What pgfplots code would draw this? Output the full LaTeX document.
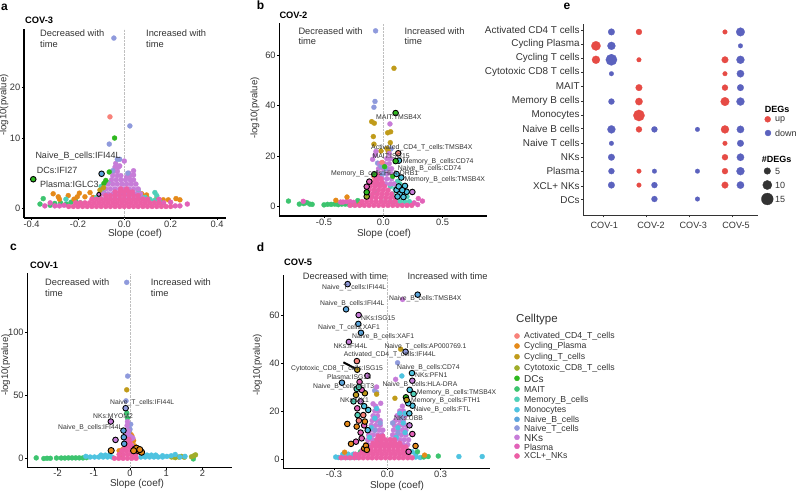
\documentclass[border=0pt]{standalone}
\usepackage{pgfplots}
\usepackage{fontspec}
\setmainfont{Liberation Sans}
\pgfplotsset{compat=1.18}
% celltype colours
\definecolor{cAc}{HTML}{F8827A}
\definecolor{cCP}{HTML}{E58A1A}
\definecolor{cCT}{HTML}{C09B1A}
\definecolor{cCy}{HTML}{A0AD2A}
\definecolor{cDC}{HTML}{2EB81F}
\definecolor{cMA}{HTML}{3DC46F}
\definecolor{cMe}{HTML}{4FD0B8}
\definecolor{cMo}{HTML}{4FC3E0}
\definecolor{cNB}{HTML}{5BA5DC}
\definecolor{cNT}{HTML}{8F9ADC}
\definecolor{cNK}{HTML}{C77CD8}
\definecolor{cPl}{HTML}{E262B8}
\definecolor{cXC}{HTML}{EC5FA5}
\definecolor{cUp}{HTML}{E64B45}
\definecolor{cDn}{HTML}{5B62BE}
\definecolor{txt}{HTML}{333333}
\pgfplotsset{
  ct/.style={only marks,mark=*,mark size=2.5pt,mark options={draw=#1,fill=#1,line width=0.3pt},forget plot},
  hl/.style={only marks,mark=*,mark size=2.8pt,mark options={draw=black,line width=0.9pt,fill=#1},forget plot},
  vol/.style={scale only axis,clip=false,
    axis x line*=bottom,axis y line*=left,
    axis line style={black,line width=1.3pt,-},
    tick align=outside,major tick length=2pt,
    tick style={black,line width=0.5pt},
    tick label style={font=\fontsize{9.3}{10}\selectfont,text=txt,inner sep=1.5pt},
    x tick label style={yshift=1pt},
    axis on top=false},
}
\newcommand\tl[4]{\node[anchor=west,inner sep=0pt,text=txt,font=\fontsize{#3}{#3}\selectfont] at (axis cs:#1,#2) {#4};}
\newcommand\tc[4]{\node[anchor=center,inner sep=0pt,text=txt,font=\fontsize{#3}{#3}\selectfont] at (axis cs:#1,#2) {#4};}
\newcommand\tb[4]{\node[anchor=west,inner sep=0pt,text=black,font=\fontsize{#3}{#3}\selectfont\bfseries] at (axis cs:#1,#2) {#4};}
\newcommand\tr[3]{\node[anchor=center,rotate=90,inner sep=0pt,text=txt,font=\fontsize{9.6}{9.6}\selectfont] at (axis cs:#1,#2) {#3};}
\begin{document}
\begin{tikzpicture}[x=1pt,y=1pt]
\useasboundingbox (0,0) rectangle (798,491);

% ---- a: COV-3
\begin{axis}[vol,at={(24pt,273pt)},anchor=south west,width=202pt,height=189pt,
  xmin=-0.433,xmax=0.439,ymin=-1.6,ymax=29.6,
  xtick={-0.4,-0.2,0,0.2,0.4},xticklabels={-0.4,-0.2,0.0,0.2,0.4},
  ytick={0,11.5,20},yticklabels={0,10,20}]
\addplot[densely dotted,black!25,forget plot] coordinates {(0,-1.6)(0,29.6)};
\addplot[ct=cMA] coordinates {(-0.364,0.7)(-0.35,1.6)(-0.32,0.5)(-0.30,0.8)(-0.275,0.9)(-0.25,0.7)(-0.23,1.0)(-0.21,1.2)(-0.19,0.9)};
\addplot[ct=cCP] coordinates {(-0.307,2.4)(-0.285,1.9)(-0.28,1.5)(-0.242,2.1)(-0.194,2.5)(-0.203,1.9)(-0.217,1.5)(-0.148,2.6)(-0.17,1.9)(-0.135,1.8)(-0.105,2.2)(0.075,2.4)(0.096,2.2)(0.14,1.6)(0.168,1.4)(0.19,1.4)(0.223,1.6)(0.24,1.4)(0.10,1.6)};
\addplot[ct=cMe] coordinates {(-0.252,1.5)(0.132,2.6)(0.14,2.1)(0.09,1.8)(0.07,2.0)(0.11,1.5)(0.13,1.3)(0.155,1.0)(-0.12,1.8)(-0.09,2.6)(-0.10,3.6)(-0.07,4.2)(0.06,3.0)};
\addplot[ct=cNK] coordinates {
(-0.10,1.6)(-0.08,1.6)(-0.06,1.6)(-0.04,1.6)(-0.02,1.6)(0,1.6)(0.02,1.6)(0.04,1.6)(0.06,1.6)(0.08,1.6)
(-0.09,2.4)(-0.07,2.4)(-0.05,2.4)(-0.03,2.4)(-0.01,2.4)(0.01,2.4)(0.03,2.4)(0.05,2.4)(0.07,2.4)
(-0.08,3.2)(-0.06,3.2)(-0.04,3.2)(-0.02,3.2)(0,3.2)(0.02,3.2)(0.04,3.2)(0.06,3.2)
(-0.07,4.0)(-0.05,4.0)(-0.03,4.0)(-0.01,4.0)(0.01,4.0)(0.03,4.0)(0.05,4.0)
(-0.055,4.7)(-0.035,4.7)(-0.015,4.7)(0.005,4.7)(0.025,4.7)(0.04,4.7)
(-0.05,5.4)(-0.03,5.4)(-0.015,5.4)(0.01,5.2)(0.025,5.4)(0.04,5.5)
(-0.045,6.1)(-0.03,6.1)(0.04,6.2)(0.02,5.8)
(-0.037,7.4)(-0.04,6.8)(-0.025,6.8)(0,7.8)(-0.02,7.0)};
\addplot[ct=cPl] coordinates {(-0.343,0.4)(-0.32,0.9)(-0.30,0.4)(-0.28,0.4)(-0.26,0.5)(0.22,0.4)(0.24,0.4)(0.272,0.7)
(0.15,1.5)(0.17,0.9)(0.20,1.0)};
\addplot[ct=cXC] coordinates {
(-0.24,0.3)(-0.22,0.3)(-0.20,0.3)(-0.18,0.3)(-0.16,0.3)(-0.14,0.3)(-0.12,0.3)(-0.10,0.3)(-0.08,0.3)(-0.06,0.3)(-0.04,0.3)(-0.02,0.3)(0,0.3)(0.02,0.3)(0.04,0.3)(0.06,0.3)(0.08,0.3)(0.10,0.3)(0.12,0.3)(0.14,0.3)(0.16,0.3)(0.18,0.3)(0.20,0.3)
(-0.21,0.9)(-0.19,0.9)(-0.17,0.9)(-0.15,0.9)(-0.13,0.9)(-0.11,0.9)(-0.09,0.9)(-0.07,0.9)(-0.05,0.9)(-0.03,0.9)(-0.01,0.9)(0.01,0.9)(0.03,0.9)(0.05,0.9)(0.07,0.9)(0.09,0.9)(0.11,0.9)(0.13,0.9)(0.15,0.9)
(-0.14,1.5)(-0.12,1.5)(-0.10,1.5)(-0.08,1.5)(-0.06,1.5)(-0.04,1.5)(-0.02,1.5)(0,1.5)(0.02,1.5)(0.04,1.5)(0.06,1.5)(0.08,1.5)(0.10,1.5)
(-0.08,2.1)(-0.06,2.1)(-0.04,2.1)(-0.02,2.1)(0,2.1)(0.02,2.1)(0.04,2.1)(0.06,2.1)
(-0.04,2.7)(-0.02,2.7)(0,2.7)(0.02,2.7)(0.035,2.7)
(-0.015,3.2)(0.01,3.2)};
\addplot[ct=cNT] coordinates {(-0.045,28.1)(0.024,13.6)(-0.065,10.6)(-0.03,8.1)(-0.02,8.1)(0.015,5.8)(-0.05,6.2)};
\addplot[ct=cAc] coordinates {(-0.062,15.1)};
\addplot[ct=cDC] coordinates {(-0.042,11.6)(-0.065,6.0)(-0.088,4.1)(-0.08,4.6)};
\addplot[ct=cCT] coordinates {(-0.105,3.0)(-0.09,3.4)};
\addplot[hl=cNB] coordinates {(-0.098,5.7)};
\addplot[hl=cDC] coordinates {(-0.393,4.8)};
\addplot[hl=cNK,mark size=2pt] coordinates {(-0.11,2.3)};
\end{axis}

% ---- b: COV-2
\begin{axis}[vol,at={(279.3pt,275pt)},anchor=south west,width=207.4pt,height=193pt,
  xmin=-0.877,xmax=0.872,ymin=-3.7,ymax=72.6,
  xtick={-0.5,0,0.5},xticklabels={-0.5,0.0,0.5},
  ytick={0,20,40,60},yticklabels={0,20,40,60}]
\addplot[densely dotted,black!25,forget plot] coordinates {(0,-3.7)(0,72.6)};
\addplot[ct=cMA] coordinates {(-0.8,2.2)(-0.708,1)(-0.67,1.2)(-0.645,1.6)(-0.62,1)(-0.60,0.9)(-0.50,0.7)(-0.47,0.9)(-0.44,0.9)(-0.41,1)(-0.38,0.8)(-0.35,1)(-0.32,1)(-0.29,0.9)(-0.26,0.9)(-0.23,1.3)(-0.215,2.4)(-0.19,1)};
\addplot[ct=cPl] coordinates {(-0.675,2.1)(-0.36,1.8)(-0.34,1.8)(-0.31,2)(-0.28,2)(-0.25,1.7)(-0.19,1.2)(0.295,3.2)(0.33,2.2)(0.26,1.5)(0.23,1.2)(0.29,0.8)};
\addplot[ct=cCP] coordinates {(-0.4,2.5)(-0.306,3.8)(-0.2,0.8)(0.14,1.5)};
\addplot[ct=cMe] coordinates {(0.06,2)(0.10,2)(0.14,2)(0.18,2)(0.22,2)(0.08,5)(0.12,4)(0.16,4)(0.20,4)(0.10,7)(0.14,7)(0.18,6)(0.12,10)(0.14,9)(0.06,8)(-0.06,6)(-0.1,4)};
\addplot[ct=cNT] coordinates {(-0.065,69.5)(-0.07,41.6)(-0.079,39.3)(0.065,22.8)(-0.048,17.2)};
\addplot[ct=cCT] coordinates {(0.09,54.7)(-0.098,33.6)(-0.076,33)(0.037,29.2)(0.062,29.6)(-0.084,27.7)(-0.079,24.7)(0.059,25.3)(0.042,21.8)(-0.02,22)(0.03,23)};
\addplot[ct=cNK] coordinates {(0.056,32.7)(-0.062,21.8)(-0.07,20.4)(-0.09,18.7)
(-0.06,9)(-0.02,9)(0.02,9)(0.06,9)(0.09,9)
(-0.05,11)(-0.01,11)(0.03,11)(0.07,11)
(-0.05,13)(-0.01,13)(0.03,13)(0.07,13)
(-0.04,15)(0,15)(0.04,15)(0.07,15)
(-0.03,17)(0.01,17)(0.05,17)
(0.03,19)(0.06,19)(0.05,21)};
\addplot[ct=cNT] coordinates {(-0.03,12)(-0.05,9)(0,13)(0.02,15)(-0.02,16)};
\addplot[ct=cAc] coordinates {(-0.01,17.5)(-0.08,12)(-0.07,11)};
\addplot[ct=cDC] coordinates {(0.011,15.8)(0.08,12)};
\addplot[ct=cXC] coordinates {
(-0.28,0.5)(-0.24,0.5)(-0.20,0.5)(-0.16,0.5)(-0.12,0.5)(-0.08,0.5)(-0.04,0.5)(0,0.5)(0.04,0.5)(0.08,0.5)(0.12,0.5)(0.16,0.5)(0.20,0.5)(0.24,0.5)
(-0.18,2)(-0.14,2)(-0.10,2)(-0.06,2)(-0.02,2)(0.02,2)(0.06,2)(0.10,2)
(-0.14,3.5)(-0.10,3.5)(-0.06,3.5)(-0.02,3.5)(0.02,3.5)(0.06,3.5)(0.10,3.5)
(-0.13,5)(-0.09,5)(-0.05,5)(-0.01,5)(0.03,5)(0.07,5)
(-0.12,6.5)(-0.08,6.5)(-0.04,6.5)(0,6.5)(0.04,6.5)
(-0.11,8)(-0.07,8)(-0.03,8)(0.01,8)
(-0.09,9.5)(-0.05,9.5)(-0.01,9.5)
(-0.06,11)(-0.02,11)(-0.05,12.5)};
\addplot[hl=cCy] coordinates {(-0.14,4)};
\addplot[hl=cPl] coordinates {(-0.118,9.9)(-0.14,7.9)};
\addplot[hl=cDC] coordinates {(-0.14,5.7)(-0.076,12.8)};
\addplot[hl=cMo] coordinates {(0.112,6.6)(0.183,8.2)(0.197,5.9)(0.14,5)(0.13,8)(0.16,6.5)(0.17,3.8)(0.12,4)(0.112,12.9)(0.152,11.5)(0.132,18.2)};
\addplot[hl=cNK] coordinates {(0.245,5.8)};
\addplot[hl=cDC] coordinates {(0.104,37)(0.104,18)};
\addplot[hl=cAc] coordinates {(0.126,21.1)};
\end{axis}

% ---- c: COV-1
\begin{axis}[vol,at={(27.3pt,23.3pt)},anchor=south west,width=204.4pt,height=194.4pt,
  xmin=-2.837,xmax=2.81,ymin=-7.5,ymax=147,
  xtick={-2,-1,0,1,2},xticklabels={-2,-1,0,1,2},
  ytick={0,50,100},yticklabels={0,50,100}]
\addplot[densely dotted,black!25,forget plot] coordinates {(0,-7.5)(0,147)};
\addplot[ct=cMA] coordinates {(-2.59,0.3)(-2.38,-0.2)(-2.29,0)(-2.2,0)(-2.03,0.2)(-1.9,0.2)(-1.8,0.2)(-1.7,0.3)(-1.6,0.3)(-1.5,0.3)(-1.4,0.3)(-1.3,0.3)(-1.2,0.5)(1.75,-0.5)};
\addplot[ct=cCy] coordinates {(1.15,1)(1.25,0.5)(1.35,1)(1.42,1.5)(1.5,0.8)(1.7,1.2)(1.77,2)(1.81,2.7)};
\addplot[ct=cMo] coordinates {(-1.22,1.5)(-1.1,1)(-0.98,1)(-0.86,1)(-0.74,1)(-0.62,1)(-0.5,1)(0.3,1)(0.42,1)(0.54,1)(0.66,1)(0.78,1)(0.9,1)(1.02,1.5)(1.14,2)(1.25,3)(1.38,1)(1.52,1.5)(0.9,2)
(-0.8,2.5)(-0.68,2.5)(-0.56,2.5)(0.35,2.5)(0.47,2.5)(0.59,2.5)(0.71,2.5)};
\addplot[ct=cCP] coordinates {(-0.25,3)(-0.2,7)(-0.15,11)(-0.1,15)(-0.05,18)(0,20)(0.05,18)(0.1,14)(0.12,10)(0.18,5)(-0.3,6)};
\addplot[ct=cNT] coordinates {(-0.09,139.8)(-0.064,65.3)(-0.11,45.6)(0.02,27)(-0.03,24)(-0.03,21)(0,23)};
\addplot[ct=cCT] coordinates {(-0.09,54.4)};
\addplot[ct=cMA] coordinates {(-0.09,36)(-0.07,32)};
\addplot[ct=cNK] coordinates {(-0.07,29)(-0.08,26)(-0.05,22)(-0.08,19)(-0.02,18)(0.03,17)(0.08,16)(-0.1,14)(0,14)(-0.12,11)(0.05,10)};
\addplot[ct=cXC] coordinates {(-0.43,0)(-0.31,0)(-0.19,0)(-0.07,0)(0.05,0)(0.17,0)
(-0.3,3)(-0.18,3)(-0.06,3)(0.06,3)(0.16,3)
(-0.22,6)(-0.10,6)(0.02,6)(0.12,6)
(-0.14,9)(-0.02,9)(0.06,9)
(-0.08,12)(0,12)
(-0.03,15)};
\addplot[hl=cCP,mark size=3.1pt] coordinates {(-0.52,6.1)(0.14,7.2)(0.23,6.1)(0.32,4.8)(0.18,8)(0.27,6.9)(0.1,6)};
\addplot[hl=cNK] coordinates {(-0.53,29.2)(-0.4,14.6)};
\addplot[hl=cNT] coordinates {(-0.12,39.8)};
\addplot[hl=cNB] coordinates {(-0.18,22)(-0.17,16.7)(-0.16,11.5)};
\end{axis}

% ---- d: COV-5
\begin{axis}[vol,at={(283.3pt,22.7pt)},anchor=south west,width=206.7pt,height=193.3pt,
  xmin=-0.585,xmax=0.578,ymin=-3.9,ymax=76.7,
  xtick={-0.3,0,0.3},xticklabels={-0.3,0.0,0.3},
  ytick={0,20,40,60},yticklabels={0,20,40,60}]
\addplot[densely dotted,black!25,forget plot] coordinates {(0,-3.9)(0,76.7)};
\addplot[ct=cMo] coordinates {(-0.29,0.8)(-0.275,0.6)(-0.25,0.6)(-0.225,0.6)(-0.2,0.6)(-0.175,0.6)(-0.25,2)(-0.22,2)(-0.19,2)(-0.16,2)(0.16,0.8)(0.185,0.6)(0.16,2)(0.14,3)(0.403,1)(0.534,1)};
\addplot[ct=cMA] coordinates {(0.287,1.2)(0.23,1)(0.205,0.8)(-0.15,3)(0.17,3)};
\addplot[ct=cCP] coordinates {(0.21,1.6)(-0.24,2.8)(-0.12,6)};
\addplot[ct=cNT] coordinates {(0.058,40.1)(-0.071,28.5)(-0.06,27.8)};
\addplot[ct=cNK] coordinates {(0.086,66.5)(0.047,33.2)(-0.037,23.2)(-0.08,23)(-0.06,30)
(-0.11,6)(-0.085,6)(-0.06,6)(-0.035,6)(-0.01,6)(0.015,6)(0.04,6)(0.065,6)(0.09,6)(0.115,6)
(-0.11,8)(-0.085,8)(-0.06,8)(-0.035,8)(0.02,8)(0.045,8)(0.07,8)(0.095,8)(0.12,8)
(-0.105,10)(-0.08,10)(-0.055,10)(-0.03,10)(0.03,10)(0.055,10)(0.08,10)(0.105,10)
(-0.095,12)(-0.07,12)(-0.045,12)(-0.025,12)(0.035,12)(0.06,12)(0.085,12)(0.105,12)
(-0.09,14)(-0.065,14)(-0.04,14)(0.04,14)(0.065,14)(0.09,14)(0.11,14)
(-0.085,16)(-0.06,16)(-0.04,16)(0.045,16)(0.07,16)(0.09,16)
(-0.08,18)(-0.055,18)(0.055,18)(0.08,18)(0.1,18)
(-0.07,20)(-0.05,20)(0.07,20)(0.09,20)
(-0.065,22)(0.085,22)};
\addplot[ct=cMo] coordinates {(0.082,34.6)(0.1,19)(0.07,19)(-0.09,13)(-0.07,17)(-0.06,21)(0.06,13)(0.09,15)(0.05,9)(-0.05,7)(0.1,11)(-0.1,9)};
\addplot[ct=cNT] coordinates {(0.03,15)(-0.04,15)(-0.07,12)(0.06,11)(0.08,17)};
\addplot[ct=cCT] coordinates {(0.075,45.8)(0.043,25.3)(-0.06,27)};
\addplot[ct=cXC] coordinates {
(-0.26,0.5)(-0.235,0.5)(-0.21,0.5)(-0.185,0.5)(-0.16,0.5)(-0.135,0.5)(-0.11,0.5)(-0.085,0.5)(-0.06,0.5)(-0.035,0.5)(-0.01,0.5)(0.015,0.5)(0.04,0.5)(0.065,0.5)(0.09,0.5)(0.115,0.5)(0.14,0.5)
(-0.18,2)(-0.155,2)(-0.13,2)(-0.105,2)(-0.08,2)(-0.055,2)(-0.03,2)(-0.005,2)(0.02,2)(0.045,2)(0.07,2)(0.095,2)(0.12,2)
(-0.14,3.5)(-0.115,3.5)(-0.09,3.5)(-0.065,3.5)(-0.04,3.5)(-0.015,3.5)(0.01,3.5)(0.035,3.5)(0.06,3.5)(0.085,3.5)(0.11,3.5)
(-0.115,5)(-0.09,5)(-0.065,5)(-0.04,5)(-0.015,5)(0.01,5)(0.035,5)(0.06,5)(0.085,5)(0.105,5)
(-0.08,6.5)(-0.055,6.5)(-0.03,6.5)(-0.005,6.5)(0.02,6.5)(0.045,6.5)(0.07,6.5)
(-0.06,8)(-0.035,8)(-0.01,8)(0.015,8)(0.04,8)
(-0.05,9.5)(-0.025,9.5)};
% highlighted genes
\addplot[black,line width=2pt,forget plot] coordinates {(-0.247,40.3)(-0.172,37.4)};
\addplot[hl=cNT] coordinates {(-0.223,72.9)(0.103,44.7)};
\addplot[hl=cNB] coordinates {(0.171,68.5)(-0.232,62.4)(-0.163,56.3)(-0.148,52.6)(-0.255,31.8)};
\addplot[hl=cNK] coordinates {(-0.161,60)(-0.216,48.8)(-0.112,34.7)(0.141,32.6)(-0.15,24)(0.125,14)};
\addplot[hl=cAc] coordinates {(-0.171,40.8)(-0.135,18.3)(-0.16,16)};
\addplot[hl=cCT] coordinates {(-0.169,37.2)(-0.126,27.4)(-0.176,26.7)};
\addplot[hl=cMo] coordinates {(0.139,35.8)(0.126,28.8)(0.142,22.2)(-0.107,20.4)(0.124,19)(0.118,23.2)(-0.13,22)(-0.11,12)};
\addplot[hl=cPl] coordinates {(-0.156,32.1)(-0.144,28.8)(-0.169,21.1)(-0.144,8.6)(-0.176,7.2)(0.141,10.4)(-0.15,11)(-0.13,14)(0.12,3)};
\addplot[hl=cMe] coordinates {(0.148,27.1)(-0.172,29.2)(-0.167,18.3)(-0.16,30)(-0.19,24)};
\addplot[hl=cDC] coordinates {(0.105,25.7)};
\addplot[hl=cCT] coordinates {(0.109,24.6)};
\addplot[hl=cCP] coordinates {(-0.126,15.6)(-0.225,14.6)(-0.172,13.5)(-0.204,6.3)(-0.13,4.4)(-0.12,5.5)(-0.115,3.8)(0.159,5.4)};
\end{axis}

% ---- e: dot plot
\begin{axis}[scale only axis,at={(583.3pt,275.7pt)},anchor=south west,width=175pt,height=191.3pt,
  axis x line*=bottom,axis y line*=left,
  axis line style={black!80,line width=0.9pt,-},
  tick align=outside,major tick length=2pt,tick style={black!80,line width=0.5pt},
  xmin=0.526,xmax=4.595,ymin=-0.17,ymax=13.57,
  xtick={1,2,3,4},xticklabels={},
  ytick={13.12,12.12,11.1,10.1,9.1,8.05,7.05,6.05,5,4,2.98,1.95,0.95},
  yticklabels={Activated CD4 T cells,Cycling Plasma,Cycling T cells,Cytotoxic CD8 T cells,MAIT,Memory B cells,Monocytes,Naive B cells,Naive T cells,NKs,Plasma,XCL+ NKs,DCs},
  y tick label style={font=\fontsize{9.9}{10}\selectfont,text=txt,inner sep=1.5pt}]
\addplot[scatter,only marks,mark=*,scatter src=y,forget plot,
  scatter/use mapped color={draw=cUp,fill=cUp,line width=0.2pt},
  visualization depends on={2+0.27*\thisrow{n}\as\rr},
  scatter/@pre marker code/.append style={/tikz/mark size=\rr}] table {
x y n
0.82 12 9.9
0.82 11 7.4
1.82 13 3.7
1.82 11 1.2
1.82 9 4.9
1.82 8 6.2
1.82 7 13.6
1.82 6 3.7
1.82 3 1.2
1.82 2 1.2
3.82 13 1.2
3.82 11 4.9
3.82 10 1.2
3.82 9 3.7
3.82 8 8.6
3.82 6 7.4
3.82 5 1.2
3.82 4 3.7
3.82 3 3.7
3.82 2 4.9
};
\addplot[scatter,only marks,mark=*,scatter src=y,forget plot,
  scatter/use mapped color={draw=cDn,fill=cDn,line width=0.2pt},
  visualization depends on={2+0.27*\thisrow{n}\as\rr},
  scatter/@pre marker code/.append style={/tikz/mark size=\rr}] table {
x y n
1.18 13 4.9
1.18 12 7.4
1.18 11 13.6
1.18 10 1.2
1.18 8 3.7
1.18 6 7.4
1.18 5 1.2
1.18 4 4.9
1.18 3 3.7
1.18 2 4.9
2.18 6 3.7
2.18 3 1.2
2.18 2 3.7
2.18 1 3.7
3.18 6 1.2
3.18 3 1.2
3.18 1 1.2
4.18 13 8.6
4.18 12 1.2
4.18 11 7.4
4.18 10 6.2
4.18 9 4.9
4.18 8 7.4
4.18 6 6.2
4.18 5 4.9
4.18 4 6.2
4.18 3 7.4
4.18 2 6.2
};
\end{axis}

% ---- page overlay in pixel units: text and legend keys
\begin{axis}[scale only axis,hide axis,at={(0pt,0pt)},anchor=south west,width=798pt,height=491pt,
  xmin=0,xmax=798,ymin=0,ymax=491,y dir=reverse,clip=false]
% celltype legend keys
\addplot[ct=cAc,mark size=2.6pt] coordinates {(517,336)};
\addplot[ct=cCP,mark size=2.6pt] coordinates {(517,346)};
\addplot[ct=cCT,mark size=2.6pt] coordinates {(517,356.7)};
\addplot[ct=cCy,mark size=2.6pt] coordinates {(517,368)};
\addplot[ct=cDC,mark size=2.6pt] coordinates {(517,378.3)};
\addplot[ct=cMA,mark size=2.6pt] coordinates {(517,389)};
\addplot[ct=cMe,mark size=2.6pt] coordinates {(517,399.3)};
\addplot[ct=cMo,mark size=2.6pt] coordinates {(517,409.7)};
\addplot[ct=cNB,mark size=2.6pt] coordinates {(517,419.3)};
\addplot[ct=cNT,mark size=2.6pt] coordinates {(517,428)};
\addplot[ct=cNK,mark size=2.6pt] coordinates {(517,437.3)};
\addplot[ct=cPl,mark size=2.6pt] coordinates {(517,446.3)};
\addplot[ct=cXC,mark size=2.6pt] coordinates {(517,456)};
% dot plot legend keys
\addplot[ct=cUp,mark size=3pt] coordinates {(767.7,119.3)};
\addplot[ct=cDn,mark size=3pt] coordinates {(768,133)};
\addplot[ct=txt,mark size=3.3pt] coordinates {(767.3,171)};
\addplot[ct=txt,mark size=4.6pt] coordinates {(767.3,185)};
\addplot[ct=txt,mark size=5.9pt] coordinates {(767.3,199)};
% panel letters and titles
\tb{1}{7}{12}{a}\tb{256.7}{5.7}{12}{b}\tb{10}{247.3}{12}{c}\tb{256.7}{247}{12}{d}\tb{563.3}{6}{12}{e}
\tb{25}{20.7}{9.3}{COV-3}\tb{279.3}{15.7}{9.3}{COV-2}\tb{30}{265}{9.3}{COV-1}\tb{284}{262.7}{9.3}{COV-5}
% direction notes
\tl{40}{32.7}{9.3}{Decreased with}\tl{40}{44}{9.3}{time}\tl{146}{32.7}{9.3}{Increased with}\tl{146}{44}{9.3}{time}
\tl{298.3}{30.7}{9.3}{Decreased with}\tl{298.3}{41.3}{9.3}{time}\tl{404.3}{30.7}{9.3}{Increased with}\tl{404.3}{41.3}{9.3}{time}
\tl{45}{282.3}{9.3}{Decreased with}\tl{45}{293}{9.3}{time}\tl{150.7}{282.3}{9.3}{Increased with}\tl{150.7}{293}{9.3}{time}
\tl{302.7}{275.7}{9.3}{Decreased with time}\tl{407.3}{275.7}{9.3}{Increased with time}
% axis titles
\tr{4}{105}{-log10(pvalue)}\tr{255}{108}{-log10(pvalue)}\tr{5.7}{365}{-log10(pvalue)}\tr{257.3}{365}{-log10(pvalue)}
\tc{135}{233.5}{10}{Slope (coef)}\tc{384}{233.5}{10}{Slope (coef)}\tc{137}{484}{10}{Slope (coef)}\tc{397}{485.7}{10}{Slope (coef)}
% panel a labels
\tl{35.3}{156}{9}{Naive\_B\_cells:IFI44L}\tl{36.7}{170.7}{9}{DCs:IFI27}\tl{40}{184.3}{9}{Plasma:IGLC3}
% panel b labels
\tl{376}{117.3}{6.9}{MAIT:TMSB4X}\tl{371}{148}{6.9}{Activated\_CD4\_T\_cells:TMSB4X}\tl{372.3}{155.7}{6.9}{MAIT:ISG15}
\tl{402.7}{161.3}{6.9}{Memory\_B\_cells:CD74}\tl{397.7}{168.7}{6.9}{Naive\_B\_cells:CD74}\tl{331}{174}{6.9}{Memory\_B\_cells:HLA-DRB1}\tl{404.3}{180}{6.9}{Memory\_B\_cells:TMSB4X}
% panel c labels
\tl{110}{402.3}{6.8}{Naive\_T\_cells:IFI44L}\tl{93}{416.3}{6.8}{NKs:MYOM2}\tl{58}{428}{6.8}{Naive\_B\_cells:IFI44L}
% panel d labels
\tl{322}{287.7}{6.8}{Naive\_T\_cells:IFI44L}\tl{389}{298.3}{6.8}{Naive\_B\_cells:TMSB4X}\tl{320}{303.7}{6.8}{Naive\_B\_cells:IFI44L}
\tl{361}{318.3}{6.8}{NKs:ISG15}\tl{318}{327.7}{6.8}{Naive\_T\_cells:XAF1}\tl{352}{336.7}{6.8}{Naive\_B\_cells:XAF1}
\tl{333.3}{346}{6.8}{NKs:IFI44L}\tl{384.3}{346.3}{6.8}{Naive\_T\_cells:AP000769.1}\tl{343.7}{354.3}{6.8}{Activated\_CD4\_T\_cells:IFI44L}
\tl{397}{367.7}{6.8}{Naive\_B\_cells:CD74}\tl{291}{369}{6.8}{Cytotoxic\_CD8\_T\_cells:ISG15}\tl{415}{375.3}{6.8}{NKs:PFN1}
\tl{327}{376.7}{6.8}{Plasma:ISG15}\tl{382.3}{384.3}{6.8}{Naive\_B\_cells:HLA-DRA}\tl{313}{386.3}{6.8}{Naive\_B\_cells:IFIT3}
\tl{416.7}{392.3}{6.8}{Memory\_B\_cells:TMSB4X}\tl{340}{400}{6.8}{NKs:MX1}\tl{411}{400.3}{6.8}{Memory\_B\_cells:FTH1}
\tl{413.3}{409.3}{6.8}{Naive\_B\_cells:FTL}\tl{394}{418}{6.8}{NKs:UBB}
% celltype legend
\tl{516}{320}{11.5}{Celltype}
\tl{524}{336.3}{8.7}{Activated\_CD4\_T\_cells}\tl{524}{346}{8.7}{Cycling\_Plasma}\tl{524}{357.3}{8.7}{Cycling\_T\_cells}
\tl{524}{368.7}{8.7}{Cytotoxic\_CD8\_T\_cells}\tl{524}{378.7}{10}{DCs}\tl{524}{389.3}{8.7}{MAIT}
\tl{524}{400}{8.7}{Memory\_B\_cells}\tl{524}{410.3}{8.7}{Monocytes}\tl{524}{420}{8.7}{Naive\_B\_cells}
\tl{524}{429}{8.7}{Naive\_T\_cells}\tl{524}{438}{10}{NKs}\tl{524}{447}{8.7}{Plasma}\tl{524}{456.3}{8.7}{XCL+\_NKs}
% dot plot x labels and legend
\tc{604.3}{225}{9.1}{COV-1}\tc{651}{225}{9.1}{COV-2}\tc{693.3}{225}{9.1}{COV-3}\tc{736}{225}{9.1}{COV-5}
\tb{764.7}{109}{9}{DEGs}\tl{775}{120}{9}{up}\tl{775}{133.5}{9}{down}
\tb{761.7}{159.3}{9}{\#DEGs}\tl{775}{171}{9}{5}\tl{775}{185}{9}{10}\tl{775}{199}{9}{15}
\end{axis}
\end{tikzpicture}
\end{document}
